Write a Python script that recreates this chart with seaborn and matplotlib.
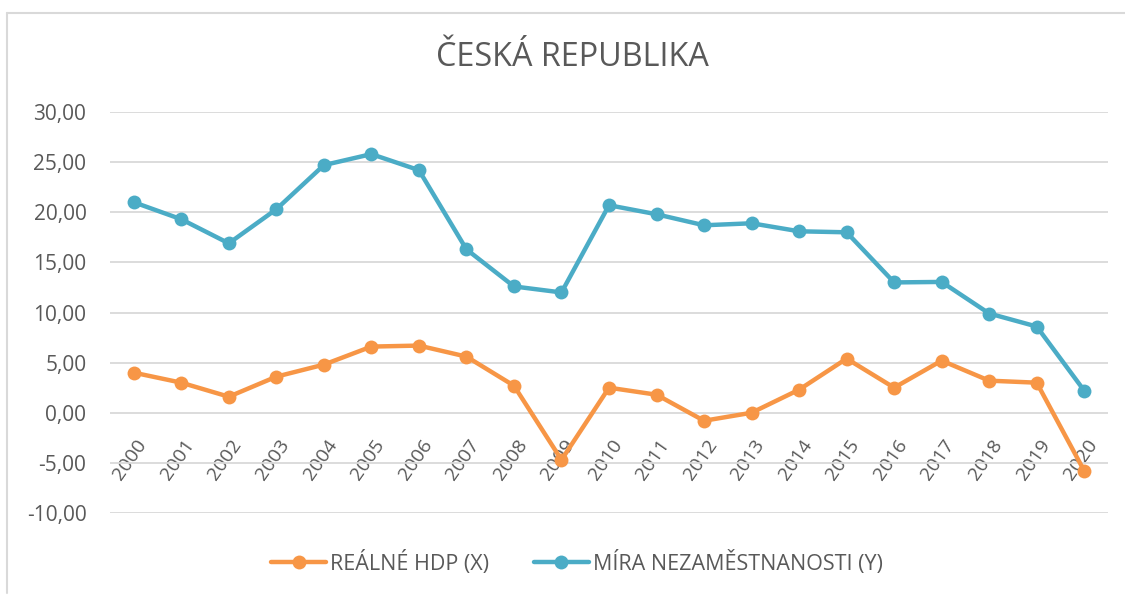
import matplotlib
matplotlib.use("Agg")
import matplotlib.pyplot as plt
import matplotlib.transforms as mtransforms
import seaborn as sns
import pandas as pd
from matplotlib.lines import Line2D
from matplotlib.ticker import FuncFormatter

# Data
years = [str(y) for y in range(2000, 2021)]
hdp = [4.0, 3.0, 1.6, 3.6, 4.8, 6.6, 6.7, 5.6, 2.7, -4.7, 2.5,
       1.8, -0.8, 0.0, 2.3, 5.4, 2.5, 5.2, 3.2, 3.0, -5.8]
nezam = [21.0, 19.3, 16.9, 20.3, 24.7, 25.8, 24.2, 16.3, 12.6, 12.0, 20.7,
         19.8, 18.7, 18.9, 18.1, 18.0, 13.0, 13.05, 9.9, 8.6, 2.2]
series_names = ["REÁLNÉ HDP (X)", "MÍRA NEZAMĚSTNANOSTI (Y)"]
colors = ["#F79646", "#4BACC6"]
title = "ČESKÁ REPUBLIKA"

df = pd.DataFrame({
    "rok": years * 2,
    "hodnota": hdp + nezam,
    "serie": [series_names[0]] * len(years) + [series_names[1]] * len(years),
})

sns.set_style("white")
plt.rcParams["font.family"] = ["Open Sans", "DejaVu Sans"]
text_col = "#595959"

fig = plt.figure(figsize=(11.25, 5.95), dpi=100)
ax = fig.add_axes([110 / 1125, 1 - 513 / 595, 998 / 1125, 401 / 595])

sns.lineplot(data=df, x="rok", y="hodnota", hue="serie", palette=colors,
             hue_order=series_names, marker="o", markersize=10, linewidth=3.2,
             markeredgewidth=0, ax=ax, legend=False)

ax.set_xlim(-0.5, len(years) - 0.5)
ax.set_ylim(-10, 30)
ax.set_yticks(range(-10, 31, 5))
ax.yaxis.set_major_formatter(FuncFormatter(lambda v, p: f"{v:.2f}".replace(".", ",")))
ax.grid(axis="y", color="#D9D9D9", linewidth=1.3)
ax.grid(axis="x", visible=False)
for s in ["top", "right", "left"]:
    ax.spines[s].set_visible(False)
# category axis crosses at zero, as in Excel
ax.spines["bottom"].set_position(("data", 0))
ax.spines["bottom"].set_visible(False)
ax.set_xlabel("")
ax.set_ylabel("")
ax.tick_params(axis="y", length=0, labelsize=15, labelcolor=text_col, pad=17)
ax.tick_params(axis="x", length=0, labelsize=14, labelcolor=text_col, pad=17)
shift = mtransforms.ScaledTranslation(2 / 100, 0, fig.dpi_scale_trans)
for lab in ax.get_xticklabels():
    lab.set_rotation(55)
    lab.set_ha("right")
    lab.set_va("top")
    lab.set_rotation_mode("anchor")
    lab.set_transform(lab.get_transform() + shift)
ax.set_axisbelow(True)

fig.text(572 / 1125, 1 - 57 / 595, title, ha="center", va="center",
         fontsize=23.3, color=text_col)

handles = [Line2D([], [], color=c, marker="o", markersize=10, linewidth=3.2,
                  markeredgewidth=0) for c in colors]
fig.legend(handles, series_names, loc="center", bbox_to_anchor=(577 / 1125, 1 - 563 / 595),
           ncol=2, frameon=False, fontsize=15.5, labelcolor=text_col,
           handlelength=2.55, handletextpad=0.2, columnspacing=2.05)

# chart border (left and top edge visible in reference)
fig.add_artist(Line2D([7 / 1125, 7 / 1125], [0.003, 1 - 13 / 595], color="#D9D9D9", linewidth=1.5))
fig.add_artist(Line2D([7 / 1125, 1.0], [1 - 13 / 595, 1 - 13 / 595], color="#D9D9D9", linewidth=1.5))

fig.savefig("out.png", dpi=100)
